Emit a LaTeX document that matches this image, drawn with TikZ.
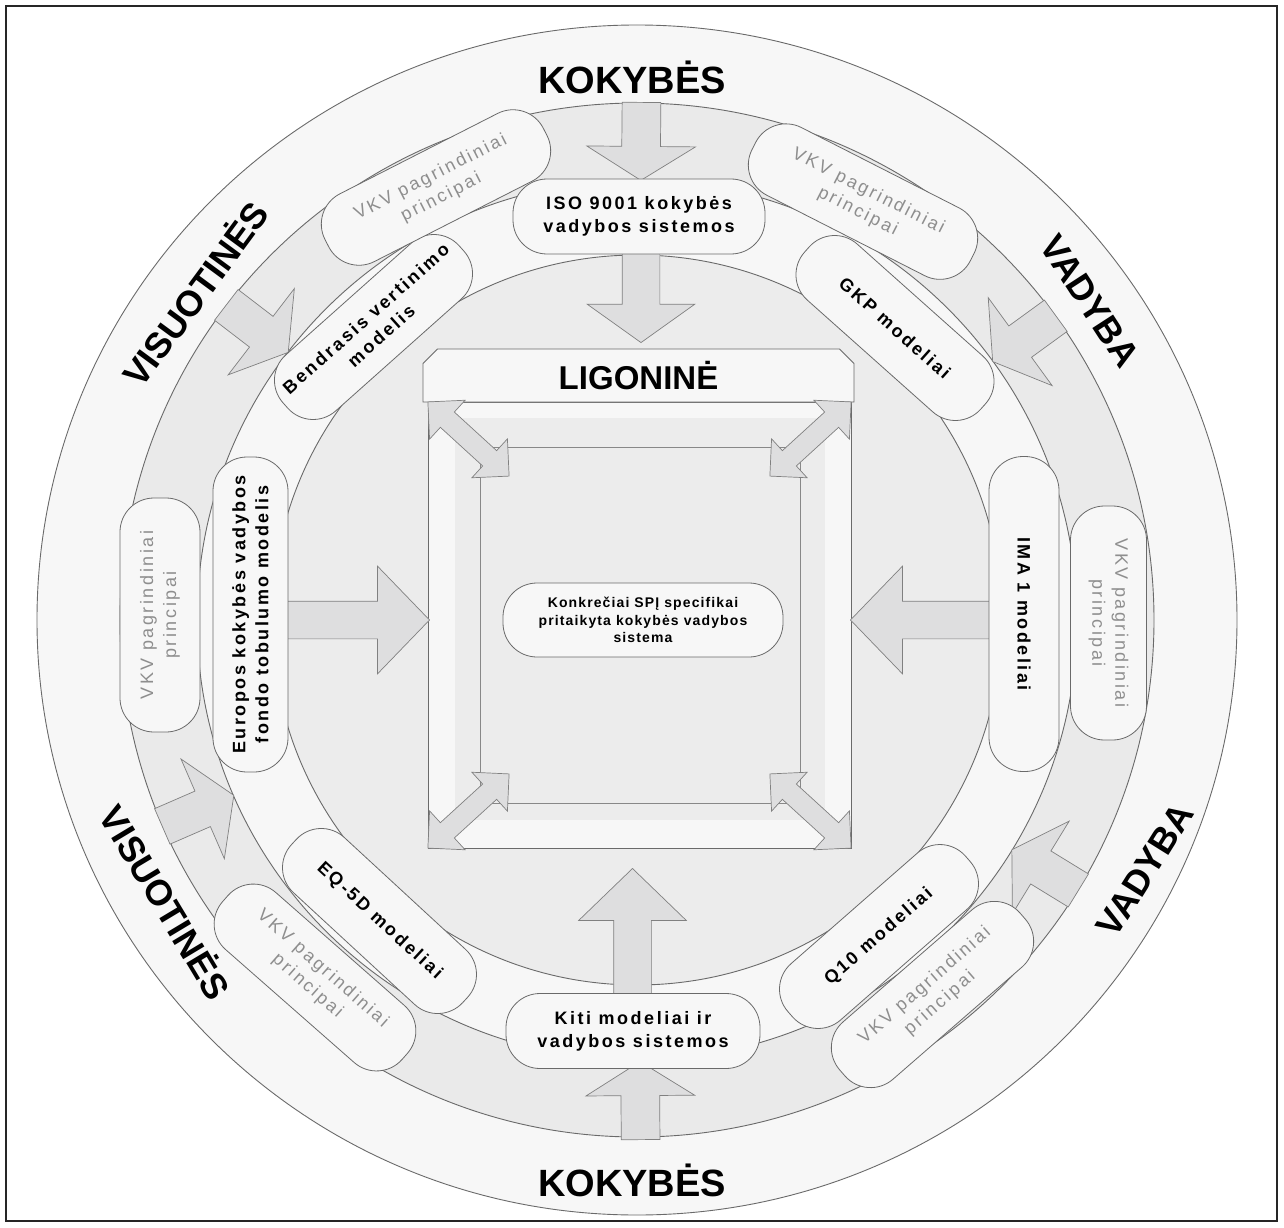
\documentclass[tikz,border=0pt]{standalone}
\usepackage{fontspec}
\setmainfont{Liberation Sans}
\newfontfamily\pillfont[LetterSpace=14]{Liberation Sans}
\newfontfamily\corefont[LetterSpace=8]{Liberation Sans}
\usetikzlibrary{shapes.arrows,shapes.misc}
\definecolor{ringwhite}{HTML}{F7F7F7}
\definecolor{ringgray}{HTML}{EAEAEA}
\definecolor{coregray}{HTML}{ECECEC}
\definecolor{arrowgray}{HTML}{DEDEDF}
\definecolor{edgegray}{HTML}{6A6A6A}
\definecolor{vkvtext}{HTML}{8E8E8E}
\tikzset{
    ring line/.style = {
        draw = edgegray,
        line width = 0.9pt
    },
    model pill/.style = {
        shape = rectangle,
        align = center,
        draw  = edgegray,
        fill  = ringwhite,
        line width = 0.8pt,
        minimum width = #1,
        minimum height = 75pt,
        rounded corners = 34pt,
        font = \pillfont\bfseries\fontsize{18}{23}\selectfont
    },
    vkv pill/.style = {
        shape = rectangle,
        align = center,
        draw  = edgegray,
        fill  = ringwhite,
        line width = 0.8pt,
        minimum width = #1,
        minimum height = 76pt,
        rounded corners = 34pt,
        text  = vkvtext,
        font = \pillfont\fontsize{18}{23}\selectfont
    },
    band arrow/.style = {
        single arrow,
        draw = edgegray!85,
        fill = arrowgray,
        line width = 0.7pt,
        minimum height = 78pt,
        inner xsep = 0pt,
        inner ysep = 19pt,
        single arrow head extend = 35pt,
        single arrow tip angle = 116,
        anchor = tail
    },
    core arrow/.style = {
        single arrow,
        draw = edgegray!85,
        fill = arrowgray,
        line width = 0.7pt,
        minimum height = #1,
        inner xsep = 0pt,
        inner ysep = 18.5pt,
        single arrow head extend = 35pt,
        single arrow tip angle = 92,
        anchor = tip
    },
    corner arrow/.style = {
        double arrow,
        draw = edgegray!85,
        fill = arrowgray,
        line width = 0.7pt,
        minimum height = 110pt,
        inner xsep = 0pt,
        inner ysep = 10pt,
        double arrow head extend = 16pt,
        double arrow tip angle = 90
    },
    ring label/.style = {
        inner sep = 0pt,
        font = \bfseries\fontsize{#1}{40}\selectfont
    }
}

\begin{document}
\begin{tikzpicture}[x=1pt, y=1pt]
      \useasboundingbox (-637,-607) rectangle (647,620);
      \draw[line width=2.4pt, black!85] (-631,614) rectangle (640,-601);

      % rings
      \draw[ring line, fill=ringwhite] (0,0) ellipse [x radius=600, y radius=595];
      \draw[ring line, fill=ringgray] (0,0) circle [radius=517];
      \draw[ring line, fill=ringwhite] (0,0) circle [radius=440];
      \draw[ring line, fill=coregray] (0,0) circle [radius=365];

      % arrows through the grey band
      \node (bandN)  at (89.5:518)  [band arrow, rotate=269.5] {};
      \node (bandNE) at (36:518)    [band arrow, rotate=216] {};
      \node (bandNW) at (142.5:518) [band arrow, rotate=322.5] {};
      \node (bandSW) at (203.5:518) [band arrow, rotate=23.5] {};
      \node (bandSE) at (-31.5:518) [band arrow, rotate=148.5] {};
      \node (bandS)  at (270.4:520) [band arrow, rotate=90.4] {};

      % hospital
      \node (hosp) at (2.5,-5) [draw=edgegray, line width=0.8pt, fill=ringwhite, minimum width=423pt, minimum height=446pt] {};
      \node (hospmid) at (3,1) [fill=coregray, minimum width=370pt, minimum height=402pt] {};
      \node (hospcore) at (3,-5) [draw=edgegray!80, line width=0.8pt, fill=coregray, minimum width=320pt, minimum height=356pt] {};
      \node (hosphead) at (1.5,244.5) [chamfered rectangle, chamfered rectangle corners={north west,north east},
            chamfered rectangle xsep=11pt, draw=edgegray, line width=0.8pt, fill=ringwhite,
            minimum width=431pt, minimum height=53pt, inner sep=0pt,
            font=\bfseries\fontsize{33}{36}\selectfont] {LIGONINĖ};

      \node (cornerNW) at (-168.5,181) [corner arrow, rotate=-42.4] {};
      \node (cornerNE) at (173.5,181)  [corner arrow, rotate=42.4] {};
      \node (cornerSW) at (-168.5,-191) [corner arrow, rotate=42.4] {};
      \node (cornerSE) at (173.5,-191) [corner arrow, rotate=-42.4] {};

      \node (toHospN) at (4,277)    [core arrow=100pt, rotate=-90, single arrow tip angle=109] {};
      \node (toHospS) at (-4.5,-248) [core arrow=130pt, rotate=90] {};
      \node (toHospW) at (-207,0)   [core arrow=145pt] {};
      \node (toHospE) at (213,0)    [core arrow=141pt, rotate=180] {};

      % models
      \node (iso)   at (2,403.5)     [model pill=252pt] {ISO 9001 kokybės\\vadybos sistemos};
      \node (bendr) at (-263.5,293)  [model pill=236pt, rotate=41.7] {Bendrasis vertinimo\\modelis};
      \node (gkp)   at (258,292)     [model pill=236pt, rotate=-41.7] {GKP modeliai};
      \node (efqm)  at (-386.5,5.5)  [model pill=315pt, rotate=90] {Europos kokybės vadybos\\fondo tobulumo modelis};
      \node (ima)   at (387,6)       [model pill=315pt, minimum height=70pt, rotate=-90] {IMA 1 modeliai};
      \node (eq)    at (-257.5,-301) [model pill=233pt, rotate=-42.7] {EQ-5D modeliai};
      \node (q10)   at (242,-316.5)  [model pill=236pt, rotate=41.2] {Q10 modeliai};
      \node (kiti)  at (-4,-411)     [model pill=254pt] {Kiti modeliai ir\\vadybos sistemos};

      % principles
      \node (vkvNW) at (-201,432.5)  [vkv pill=245pt, rotate=27] {VKV pagrindiniai\\principai};
      \node (vkvNE) at (226,418.4)   [vkv pill=245pt, rotate=-27] {VKV pagrindiniai\\principai};
      \node (vkvW)  at (-477,5)      [vkv pill=234pt, minimum height=80pt, rotate=90] {VKV pagrindiniai\\principai};
      \node (vkvE)  at (471.5,-3)    [vkv pill=234pt, rotate=-90] {VKV pagrindiniai\\principai};
      \node (vkvSW) at (-322,-357.5) [vkv pill=239pt, rotate=-41.3] {VKV pagrindiniai\\principai};
      \node (vkvSE) at (295.5,-374.5) [vkv pill=239pt, rotate=41] {VKV pagrindiniai\\principai};

      \node (spi) at (6,0) [model pill=280pt, minimum height=74pt,
            font=\corefont\bfseries\fontsize{14}{17.5}\selectfont] {Konkrečiai SPĮ specifikai\\pritaikyta kokybės vadybos\\sistema};

      % ring words
      \node (kokN)  at (-5,543)      [ring label=38] {KOKYBĖS};
      \node (kokS)  at (-5,-560)     [ring label=38] {KOKYBĖS};
      \node (visNW) at (-443,327)    [ring label=36, rotate=53.6] {VISUOTINĖS};
      \node (vadNE) at (453,319)     [ring label=36, rotate=-57] {VADYBA};
      \node (visSW) at (-470,-281.5) [ring label=36, rotate=-59] {VISUOTINĖS};
      \node (vadSE) at (508,-250)    [ring label=36, rotate=58] {VADYBA};
\end{tikzpicture}
\end{document}
